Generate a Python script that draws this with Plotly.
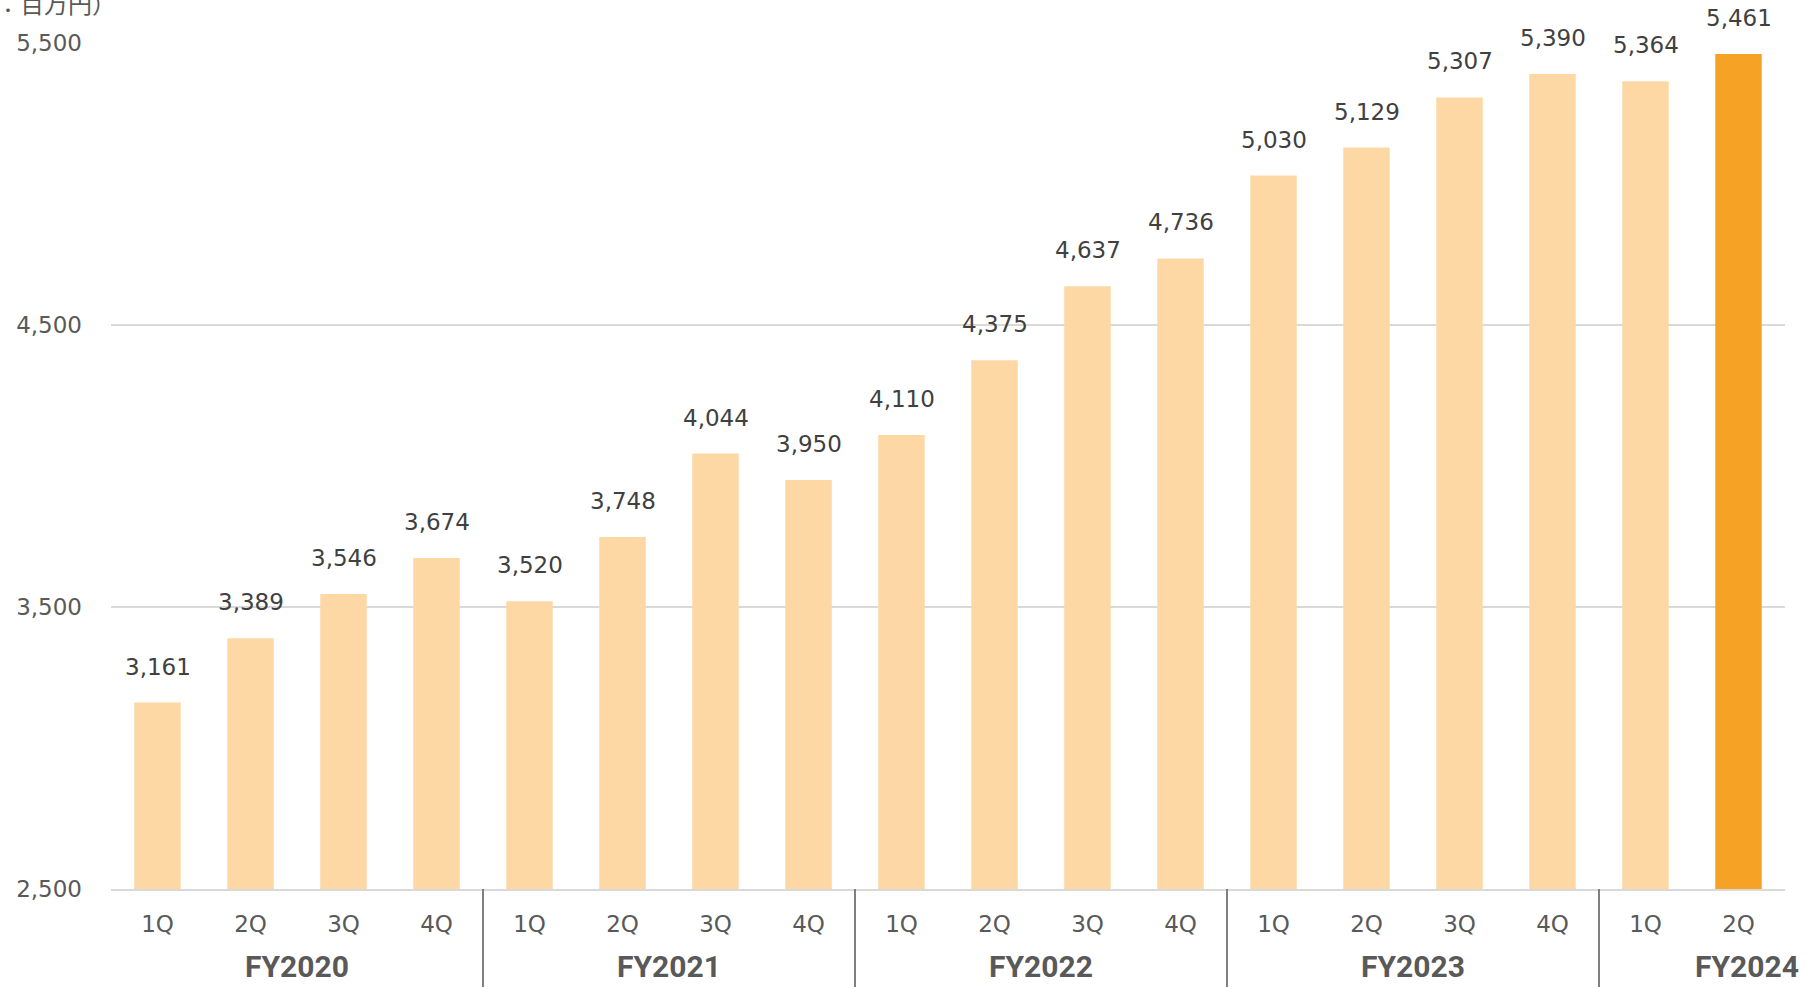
import plotly.graph_objects as go

# ---- data ----
quarters = ["1Q", "2Q", "3Q", "4Q",
            "1Q", "2Q", "3Q", "4Q",
            "1Q", "2Q", "3Q", "4Q",
            "1Q", "2Q", "3Q", "4Q",
            "1Q", "2Q"]
fiscal_years = ["FY2020"] * 4 + ["FY2021"] * 4 + ["FY2022"] * 4 + ["FY2023"] * 4 + ["FY2024"] * 2
sales = [3161, 3389, 3546, 3674,
         3520, 3748, 4044, 3950,
         4110, 4375, 4637, 4736,
         5030, 5129, 5307, 5390,
         5364, 5461]
y_ticks = [2500, 3500, 4500, 5500]
unit_label = "（単位：百万円）"

LIGHT = "#FDD8A5"
DARK = "#F6A225"
positions = list(range(len(sales)))
colors = [LIGHT] * (len(sales) - 1) + [DARK]

fig = go.Figure()
fig.add_trace(go.Bar(
    x=positions, y=sales, width=0.5,
    marker=dict(color=colors, line=dict(width=0)),
    hoverinfo="skip",
))

annotations = []
# data labels
for p, v in zip(positions, sales):
    annotations.append(dict(
        x=p, y=v, xref="x", yref="y", text=f"{v:,}", showarrow=False,
        yanchor="bottom", yshift=21,
        font=dict(family="DejaVu Sans", size=23, color="#404040"),
    ))

# fiscal-year group labels and separators
groups = []
for i, fy in enumerate(fiscal_years):
    if not groups or groups[-1][0] != fy:
        groups.append([fy, i, i])
    else:
        groups[-1][2] = i

shapes = []
for gi, (fy, start, end) in enumerate(groups):
    last = gi == len(groups) - 1
    if last:
        annotations.append(dict(
            x=1, y=0, xref="paper", yref="paper", text=f"<b>{fy}</b>", showarrow=False,
            xanchor="right", yanchor="middle", xshift=16, yshift=-77,
            font=dict(family="Roboto", size=30, color="#595959"),
        ))
    else:
        annotations.append(dict(
            x=(start + end) / 2, y=0, xref="x", yref="paper", text=f"<b>{fy}</b>",
            showarrow=False, xanchor="center", yanchor="middle", yshift=-77,
            font=dict(family="Roboto", size=30, color="#595959"),
        ))
    if gi > 0:
        shapes.append(dict(
            type="line", xref="x", yref="paper", x0=start - 0.5, x1=start - 0.5,
            y0=0, y1=-0.2, line=dict(color="#7F7F7F", width=2),
        ))

# unit label (clipped at top-left like the source)
annotations.append(dict(
    x=0, y=1, xref="paper", yref="paper", text=unit_label, showarrow=False,
    xanchor="right", yanchor="middle", xshift=7, yshift=41,
    font=dict(family="Noto Sans CJK JP", size=24, color="#595959"),
))

fig.update_layout(
    width=1817, height=987,
    margin=dict(l=111, r=32, t=43, b=98),
    paper_bgcolor="white", plot_bgcolor="white",
    showlegend=False,
    bargap=0.5,
    annotations=annotations,
    shapes=shapes,
    xaxis=dict(
        range=[-0.5, len(sales) - 0.5],
        tickmode="array", tickvals=positions, ticktext=quarters,
        showgrid=False, zeroline=False,
        showline=True, linecolor="#D9D9D9", linewidth=1.5,
        ticks="", ticklabelstandoff=14,
        tickfont=dict(family="DejaVu Sans", size=23, color="#595959"),
    ),
    yaxis=dict(
        range=[y_ticks[0], y_ticks[-1]],
        tickmode="array", tickvals=y_ticks, ticktext=[f"{t:,}" for t in y_ticks],
        showgrid=True, gridcolor="#D9D9D9", gridwidth=1.5,
        zeroline=False, showline=False,
        ticks="", ticklabelstandoff=28,
        tickfont=dict(family="DejaVu Sans", size=23, color="#595959"),
    ),
)

fig.write_html(
    "out.html",
    config={"displayModeBar": False},
    post_script="document.body.style.margin='0';document.body.style.overflow='hidden';",
)
